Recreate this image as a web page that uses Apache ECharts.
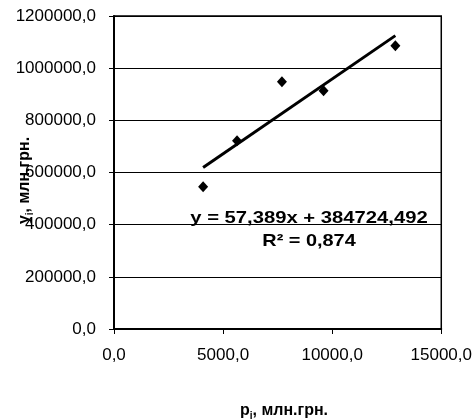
<!DOCTYPE html>
<html>
<head>
<meta charset="utf-8">
<script src="https://cdn.jsdelivr.net/npm/echarts@6/dist/echarts.min.js"></script>
<style>
html,body{margin:0;padding:0;background:#fff;}
#chart{width:475px;height:420px;}
</style>
</head>
<body>
<div id="chart"></div>
<script>
// Data
const xValues = [4084, 5639, 7697, 9604, 12896];
const yValues = [545600, 721900, 948100, 913600, 1086100];
// Linear trend line end points (as drawn)
const trendX = [4084, 12896];
const trendY = [619100, 1124800];
// Tick labels
const xTickLabels = ['0,0', '5000,0', '10000,0', '15000,0'];
const yTickLabels = ['0,0', '200000,0', '400000,0', '600000,0', '800000,0', '1000000,0', '1200000,0'];
const equationText = 'y = 57,389x + 384724,492';
const r2Text = 'R\u00B2 = 0,874';

const FONT = "'Liberation Sans', Arial, sans-serif";

const points = xValues.map((x, i) => [x, yValues[i]]);
const trend = trendX.map((x, i) => [x, trendY[i]]);

const chart = echarts.init(document.getElementById('chart'));
chart.setOption({
  animation: false,
  backgroundColor: '#fff',
  grid: {
    left: 114, top: 16, right: 33, bottom: 91,
    show: true, borderColor: '#000', borderWidth: 1.5, backgroundColor: 'transparent'
  },
  xAxis: {
    type: 'value', min: 0, max: 15000, interval: 5000,
    axisLine: { show: true, onZero: false, lineStyle: { color: '#000', width: 2 } },
    axisTick: { show: true, inside: false, length: 5, lineStyle: { color: '#000', width: 1 } },
    axisLabel: {
      margin: 18, fontFamily: FONT, fontSize: 17, color: '#000',
      formatter: v => xTickLabels[Math.round(v / 5000)]
    },
    splitLine: { show: false }
  },
  yAxis: {
    type: 'value', min: 0, max: 1200000, interval: 200000,
    axisLine: { show: true, onZero: false, lineStyle: { color: '#000', width: 2 } },
    axisTick: { show: true, inside: false, length: 5, lineStyle: { color: '#000', width: 1 } },
    axisLabel: {
      margin: 18, fontFamily: FONT, fontSize: 17, color: '#000',
      formatter: v => yTickLabels[Math.round(v / 200000)]
    },
    splitLine: { show: true, lineStyle: { color: '#000', width: 1 } }
  },
  series: [
    {
      type: 'line', data: trend, showSymbol: false, symbol: 'none',
      lineStyle: { color: '#000', width: 3 }, z: 2
    },
    {
      type: 'scatter', data: points, symbol: 'diamond', symbolSize: [10, 11],
      itemStyle: { color: '#000', opacity: 1 }, z: 3
    }
  ],
  graphic: [
    {
      type: 'text', x: 309, y: 218.5, scaleX: 1.19, z: 10,
      style: {
        text: equationText, fontFamily: FONT, fontSize: 17, fontWeight: 'bold',
        fill: '#000', align: 'center', verticalAlign: 'middle'
      }
    },
    {
      type: 'text', x: 309, y: 241, scaleX: 1.17, z: 10,
      style: {
        text: r2Text, fontFamily: FONT, fontSize: 17, fontWeight: 'bold',
        fill: '#000', align: 'center', verticalAlign: 'middle'
      }
    },
    {
      type: 'text', x: 284, y: 411, z: 10,
      style: {
        text: '{a|p}{s|i}{a|, млн.грн.}',
        align: 'center', verticalAlign: 'middle',
        rich: {
          a: { fontFamily: FONT, fontSize: 16, fontWeight: 'bold', fill: '#000', lineHeight: 20, verticalAlign: 'middle' },
          s: { fontFamily: FONT, fontSize: 10, fontWeight: 'bold', fill: '#000', lineHeight: 20, verticalAlign: 'bottom' }
        }
      }
    },
    {
      type: 'text', x: 25, y: 180.5, rotation: Math.PI / 2, z: 10,
      style: {
        text: '{a|y}{s|i}{a|, млн.грн.}',
        align: 'center', verticalAlign: 'middle',
        rich: {
          a: { fontFamily: FONT, fontSize: 16, fontWeight: 'bold', fill: '#000', lineHeight: 20, verticalAlign: 'middle' },
          s: { fontFamily: FONT, fontSize: 10, fontWeight: 'bold', fill: '#000', lineHeight: 20, verticalAlign: 'bottom' }
        }
      }
    }
  ]
});
</script>
</body>
</html>
